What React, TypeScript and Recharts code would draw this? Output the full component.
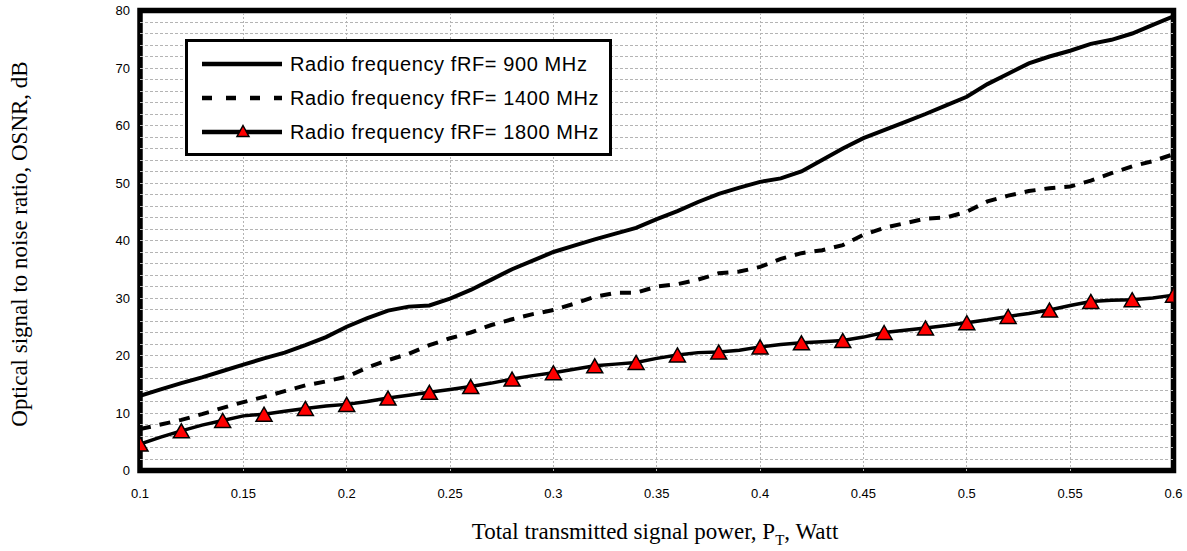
import React from "react"
import {
    LineChart,
    Line,
    XAxis,
    YAxis,
    ReferenceArea,
    ReferenceLine,
} from "recharts"

// transmitted power, W (one point every 0.01)
const power = [
    0.1, 0.11, 0.12, 0.13, 0.14, 0.15, 0.16, 0.17, 0.18, 0.19,
    0.2, 0.21, 0.22, 0.23, 0.24, 0.25, 0.26, 0.27, 0.28, 0.29,
    0.3, 0.31, 0.32, 0.33, 0.34, 0.35, 0.36, 0.37, 0.38, 0.39,
    0.4, 0.41, 0.42, 0.43, 0.44, 0.45, 0.46, 0.47, 0.48, 0.49,
    0.5, 0.51, 0.52, 0.53, 0.54, 0.55, 0.56, 0.57, 0.58, 0.59, 0.6,
]

// OSNR, dB
const osnr900 = [
    13, 14.1, 15.2, 16.2, 17.3, 18.4, 19.5, 20.5, 21.8, 23.2,
    25, 26.5, 27.8, 28.5, 28.7, 29.9, 31.4, 33.2, 35, 36.5,
    38, 39.1, 40.2, 41.2, 42.2, 43.7, 45.1, 46.7, 48.1, 49.2,
    50.2, 50.8, 52, 54, 56, 57.8, 59.2, 60.6, 62, 63.5,
    65, 67.2, 69, 70.8, 72, 73, 74.2, 74.9, 76, 77.5, 79,
]

const osnr1400 = [
    7.2, 8, 8.8, 9.8, 10.9, 11.9, 12.8, 13.8, 14.8, 15.5,
    16.3, 17.9, 19.2, 20.3, 21.8, 23, 24, 25.3, 26.3, 27.2,
    27.9, 29, 30.2, 30.9, 30.9, 32, 32.4, 33.2, 34.3, 34.6,
    35.4, 36.8, 37.8, 38.3, 39.2, 41, 42.2, 43, 43.8, 44,
    45, 46.8, 47.8, 48.6, 49.1, 49.4, 50.4, 51.7, 52.9, 53.8, 55,
]

const osnr1800 = [
    4.6, 5.8, 6.9, 7.9, 8.7, 9.5, 9.8, 10.3, 10.8, 11.2,
    11.5, 12, 12.6, 13.1, 13.6, 14.1, 14.6, 15.2, 15.9, 16.5,
    17, 17.6, 18.2, 18.5, 18.8, 19.5, 20.1, 20.5, 20.6, 20.9,
    21.5, 21.9, 22.2, 22.4, 22.6, 23.2, 24, 24.4, 24.8, 25.2,
    25.7, 26.2, 26.8, 27.3, 27.9, 28.7, 29.4, 29.6, 29.7, 30, 30.5,
]

const seriesNames = [
    "Radio frequency fRF= 900 MHz",
    "Radio frequency fRF= 1400 MHz",
    "Radio frequency fRF= 1800 MHz",
]

const xTicks = [0.1, 0.15, 0.2, 0.25, 0.3, 0.35, 0.4, 0.45, 0.5, 0.55, 0.6]
const yTicks = [0, 10, 20, 30, 40, 50, 60, 70, 80]
const xGrid = [0.15, 0.2, 0.25, 0.3, 0.35, 0.4, 0.45, 0.5, 0.55]
const yGrid = [
    2, 4, 6, 8, 10, 12, 14, 16, 18, 20, 22, 24, 26, 28, 30, 32, 34, 36, 38, 40,
    42, 44, 46, 48, 50, 52, 54, 56, 58, 60, 62, 64, 66, 68, 70, 72, 74, 76, 78,
]

const data = power.map((p, i) => ({
    p,
    f900: osnr900[i],
    f1400: osnr1400[i],
    f1800: osnr1800[i],
}))

const sans = "'Liberation Sans', Arial, sans-serif"
const serif = "'Liberation Serif', 'Times New Roman', serif"

function Triangle({ cx, cy, w = 16, h = 14 }: { cx: number; cy: number; w?: number; h?: number }) {
    return (
        <path
            d={`M${cx},${cy - h / 2} L${cx + w / 2},${cy + h / 2} L${cx - w / 2},${cy + h / 2} Z`}
            fill="#ff0000"
            stroke="#000"
            strokeWidth={1.5}
            strokeLinejoin="miter"
        />
    )
}

// markers only on every other point (0.1, 0.12, ...)
function renderTriangle(props: any) {
    const { cx, cy, index } = props
    if (index % 2 !== 0 || cx == null || cy == null) return <g key={`t${index}`} />
    return (
        <g key={`t${index}`}>
            <Triangle cx={cx} cy={cy} />
        </g>
    )
}

function LegendBox() {
    const row = (i: number, icon: React.ReactNode) => (
        <div key={i} style={{ display: "flex", alignItems: "center", height: 34 }}>
            <svg width={95} height={20} style={{ display: "block" }}>
                {icon}
            </svg>
            <span
                style={{
                    marginLeft: 7,
                    fontSize: 20,
                    letterSpacing: 0.6,
                    fontFamily: sans,
                    color: "#000",
                    whiteSpace: "nowrap",
                }}
            >
                {seriesNames[i]}
            </span>
        </div>
    )
    return (
        <div
            style={{
                position: "absolute",
                left: 185,
                top: 39,
                width: 427,
                height: 117,
                boxSizing: "border-box",
                border: "3.5px solid #000",
                background: "#fff",
                padding: "5px 0 0 0",
            }}
        >
            {row(0, <line x1={14} y1={10} x2={94} y2={10} stroke="#000" strokeWidth={4.5} />)}
            {row(1, <line x1={14} y1={10} x2={94} y2={10} stroke="#000" strokeWidth={4.5} strokeDasharray="10 14" />)}
            {row(
                2,
                <>
                    <line x1={14} y1={10} x2={94} y2={10} stroke="#000" strokeWidth={4.5} />
                    <Triangle cx={55} cy={9} w={12} h={11} />
                </>
            )}
        </div>
    )
}

export default function App() {
    return (
        <div style={{ position: "absolute", left: 0, top: 0, width: 1187, height: 551, background: "#fff" }}>
            <LineChart
                width={1187}
                height={551}
                data={data}
                margin={{ top: 10.5, right: 13.5, bottom: 40.5, left: 80 }}
            >
                <XAxis
                    dataKey="p"
                    type="number"
                    domain={[0.1, 0.6]}
                    ticks={xTicks}
                    allowDataOverflow
                    height={40}
                    axisLine={false}
                    tickLine={false}
                    tickSize={0}
                    tickMargin={18}
                    tick={{ fontSize: 13, fontFamily: sans, fill: "#000" }}
                />
                <YAxis
                    type="number"
                    domain={[0, 80]}
                    ticks={yTicks}
                    width={60}
                    axisLine={false}
                    tickLine={false}
                    tickSize={0}
                    tickMargin={10}
                    tick={{ fontSize: 13, fontFamily: sans, fill: "#000" }}
                />
                {yGrid.map((v) => (
                    <ReferenceLine
                        key={`h${v}`}
                        y={v}
                        stroke="#b4b4b4"
                        strokeWidth={1}
                        strokeDasharray="3 2"
                        shapeRendering="crispEdges"
                    />
                ))}
                {xGrid.map((v) => (
                    <ReferenceLine
                        key={`v${v}`}
                        x={v}
                        stroke="#b4b4b4"
                        strokeWidth={1}
                        strokeDasharray="2 2"
                        shapeRendering="crispEdges"
                    />
                ))}
                <ReferenceArea x1={0.1} x2={0.6} y1={0} y2={80} fill="none" stroke="#000" strokeWidth={5.5} />
                <Line
                    dataKey="f900"
                    name={seriesNames[0]}
                    stroke="#000"
                    strokeWidth={4}
                    dot={false}
                    type="linear"
                    isAnimationActive={false}
                />
                <Line
                    dataKey="f1400"
                    name={seriesNames[1]}
                    stroke="#000"
                    strokeWidth={4}
                    strokeDasharray="11 9"
                    dot={false}
                    type="linear"
                    isAnimationActive={false}
                />
                <Line
                    dataKey="f1800"
                    name={seriesNames[2]}
                    stroke="#000"
                    strokeWidth={3.5}
                    dot={renderTriangle}
                    type="linear"
                    isAnimationActive={false}
                />
            </LineChart>
            <LegendBox />
            <div
                style={{
                    position: "absolute",
                    left: 20,
                    top: 244,
                    transform: "translate(-50%, -50%) rotate(-90deg)",
                    fontFamily: serif,
                    fontSize: 23,
                    whiteSpace: "nowrap",
                    color: "#000",
                }}
            >
                Optical signal to noise ratio, OSNR, dB
            </div>
            <div
                style={{
                    position: "absolute",
                    left: 655,
                    top: 534,
                    transform: "translate(-50%, -50%)",
                    fontFamily: serif,
                    fontSize: 23,
                    whiteSpace: "nowrap",
                    color: "#000",
                }}
            >
                Total transmitted signal power, P<sub style={{ fontSize: 15 }}>T</sub>, Watt
            </div>
        </div>
    )
}
